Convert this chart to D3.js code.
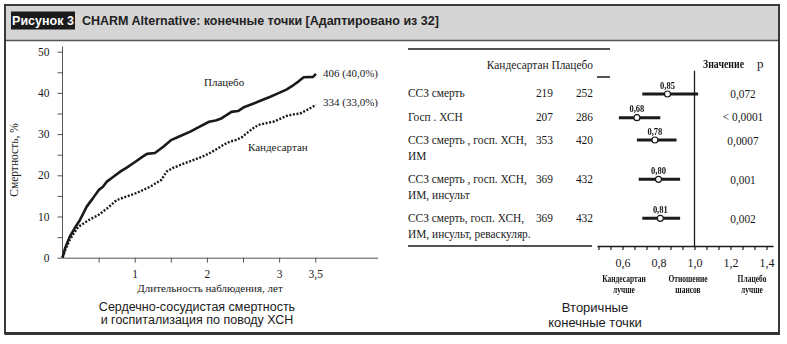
<!DOCTYPE html>
<html><head><meta charset="utf-8">
<script src="https://cdn.jsdelivr.net/npm/d3@7"></script>
<style>
html,body{margin:0;padding:0;background:#fff;}
svg{display:block;}
.serif{font-family:"Liberation Serif","DejaVu Serif",serif;fill:#1a1a1a;}
.sans{font-family:"Liberation Sans",Arial,sans-serif;fill:#1a1a1a;}
.gray{opacity:0.99;}
</style></head>
<body>
<svg id="chart" width="787" height="344"></svg>
<script>
// ---------- DATA ----------
const figureLabel = "Рисунок 3";
const figureTitle = "CHARM Alternative: конечные точки [Адаптировано из 32]";

// Kaplan–Meier style curves: [years, %]
const placeboCurve = [[0,0],[0.04,2.5],[0.10,5.1],[0.17,7.2],[0.24,9.1],[0.29,10.8],[0.335,12.4],[0.42,14.4],[0.50,16.4],[0.56,17.2],[0.61,18.4],[0.70,19.6],[0.80,20.9],[0.90,22.0],[1.01,23.3],[1.10,24.4],[1.17,25.2],[1.28,25.4],[1.40,27.0],[1.51,28.6],[1.64,29.6],[1.77,30.6],[1.90,31.8],[2.03,33.0],[2.12,33.3],[2.20,33.8],[2.34,35.4],[2.43,35.6],[2.52,36.6],[2.63,37.3],[2.74,38.1],[2.87,39.0],[3.00,40.0],[3.10,40.8],[3.20,41.9],[3.27,42.8],[3.34,43.8],[3.47,43.9],[3.51,44.6]];
const candesartanCurve = [[0,0],[0.04,2.0],[0.10,4.3],[0.16,6.0],[0.22,7.5],[0.36,9.1],[0.50,10.4],[0.62,12.0],[0.75,14.0],[0.88,14.8],[1.01,15.6],[1.21,17.2],[1.37,18.9],[1.44,20.9],[1.53,21.8],[1.63,22.5],[1.81,23.7],[1.92,24.4],[2.03,25.3],[2.13,26.3],[2.23,27.4],[2.32,28.2],[2.41,28.6],[2.48,29.2],[2.55,30.2],[2.63,31.3],[2.71,32.2],[2.80,32.6],[2.92,33.0],[3.00,33.6],[3.10,34.4],[3.20,34.8],[3.29,35.0],[3.38,35.8],[3.51,37.1]];
const kmYTicks = [0,5,10,15,20,25,30,35,40,45,50];
const kmXTicks = [0.5,1,1.5,2,2.5,3,3.5];
const kmXLabels = {1:"1",2:"2",3:"3",3.5:"3,5"};
const placeboEndLabel = "406 (40,0%)";
const candesartanEndLabel = "334 (33,0%)";

// Forest plot
const outcomes = [["ССЗ смерть"],["Госп . ХСН"],["ССЗ смерть , госп. ХСН,","ИМ"],["ССЗ смерть , госп. ХСН,","ИМ, инсульт"],["ССЗ смерть, госп. ХСН,","ИМ, инсульт, реваскуляр."]];
const candesartanN = [219,207,353,369,369];
const placeboN = [252,286,420,432,432];
const oddsRatio = [0.85,0.68,0.78,0.80,0.81];
const ciLow = [0.71,0.58,0.68,0.69,0.71];
const ciHigh = [1.02,0.81,0.90,0.92,0.92];
const pValues = ["0,072","< 0,0001","0,0007","0,001","0,002"];

// ---------- DRAW ----------
const svg = d3.select("#chart");
const comma = v => d3.format(".2f")(v).replace(".", ",");
const boldLayer = svg.append("g").attr("class","gray");

// condensed text: horizontal scale only
function condText(x, y, str, size, sx, anchor, bold) {
  const parent = bold ? boldLayer : svg;
  const t = parent.append("text").attr("class","serif")
    .attr("transform",`translate(${x},${y}) scale(${sx},1)`)
    .attr("text-anchor",anchor || "start").style("font-size",size+"px").text(str);
  if (bold) t.style("font-weight","bold").style("fill","#111");
  return t;
}

// Frame & header
svg.append("rect").attr("x",5).attr("y",5).attr("width",774).attr("height",35.5).attr("fill","#d5d5d5");
svg.append("line").attr("x1",5).attr("x2",779).attr("y1",40.5).attr("y2",40.5).attr("stroke","#555").attr("stroke-width",1.5);
svg.append("rect").attr("x",5).attr("y",5).attr("width",774).attr("height",328.5).attr("fill","none").attr("stroke","#3a3a3a").attr("stroke-width",2);
svg.append("line").attr("x1",5).attr("x2",780).attr("y1",333.5).attr("y2",333.5).attr("stroke","#333").attr("stroke-width",3);
svg.append("rect").attr("x",11).attr("y",11.5).attr("width",64).attr("height",18).attr("fill","#1a1a1a");
svg.append("text").attr("class","sans").attr("x",43).attr("y",25).attr("text-anchor","middle")
  .style("fill","#fff").style("font-weight","bold").style("font-size","12.5px").text(figureLabel);
svg.append("text").attr("class","sans").attr("x",82).attr("y",25).style("font-weight","bold").style("font-size","12.5px").style("fill","#222").text(figureTitle);

// ---- KM chart ----
const x = d3.scaleLinear().domain([0,4.365]).range([62.5,377.7]);
const y = d3.scaleLinear().domain([0,50]).range([257.7,51.7]);

const gy = svg.append("g").attr("transform","translate(62.5,0)")
  .call(d3.axisLeft(y).tickValues(kmYTicks).tickFormat(d => d%10===0 ? d : "").tickSize(5).tickPadding(8).tickSizeOuter(0));
gy.select(".domain").remove();
svg.append("line").attr("x1",62.5).attr("x2",62.5).attr("y1",46.5).attr("y2",257.7).attr("stroke","#555").attr("stroke-width",1);
gy.selectAll(".tick line").attr("stroke","#555");
gy.selectAll("text").attr("class","serif").style("font-size","11.5px");

const gx = svg.append("g").attr("transform","translate(0,257.7)")
  .call(d3.axisBottom(x).tickValues(kmXTicks).tickFormat(d => kmXLabels[d] || "").tickSize(5).tickPadding(7).tickSizeOuter(0));
gx.select(".domain").attr("stroke","#555");
gx.selectAll(".tick line").attr("stroke","#555");
gx.selectAll("text").attr("class","serif").style("font-size","11.5px");

const line = d3.line().x(d => x(d[0])).y(d => y(d[1]));
svg.append("path").datum(placeboCurve).attr("d",line).attr("fill","none").attr("stroke","#1a1a1a").attr("stroke-width",2.6).attr("stroke-linejoin","round");
svg.append("path").datum(candesartanCurve).attr("d",line).attr("fill","none").attr("stroke","#1a1a1a").attr("stroke-width",2.4).attr("stroke-dasharray","2,1.6");

svg.append("text").attr("class","serif").attr("x",204).attr("y",86).style("font-size","11px").text("Плацебо");
svg.append("text").attr("class","serif").attr("x",248).attr("y",151).style("font-size","11px").text("Кандесартан");
svg.append("text").attr("class","serif").attr("x",323).attr("y",77).style("font-size","11px").text(placeboEndLabel);
svg.append("text").attr("class","serif").attr("x",323).attr("y",105.5).style("font-size","11px").text(candesartanEndLabel);

svg.append("text").attr("class","serif").attr("x",210).attr("y",292).attr("text-anchor","middle").style("font-size","11px").text("Длительность наблюдения, лет");
svg.append("text").attr("class","serif").attr("transform","translate(18,160) rotate(-90)").attr("text-anchor","middle").style("font-size","11.5px").text("Смертность, %");
svg.append("text").attr("class","sans").attr("x",197).attr("y",310.5).attr("text-anchor","middle").style("font-size","12.5px").text("Сердечно-сосудистая смертность");
svg.append("text").attr("class","sans").attr("x",197).attr("y",324).attr("text-anchor","middle").style("font-size","12.5px").text("и госпитализация по поводу ХСН");

// ---- Table ----
svg.append("line").attr("x1",408).attr("x2",610).attr("y1",49).attr("y2",49).attr("stroke","#1a1a1a").attr("stroke-width",1.5);
svg.append("line").attr("x1",597).attr("x2",610).attr("y1",77).attr("y2",77).attr("stroke","#1a1a1a").attr("stroke-width",1.5);
condText(593, 69, "Кандесартан  Плацебо", 12, 0.95, "end");

// row y positions from the number of text lines per row
const lineH = 15.5, rowGap = 8;
const rowY = [];
outcomes.reduce((acc, o) => { rowY.push(acc); return acc + o.length*lineH + rowGap; }, 93.3);

outcomes.forEach((o, i) => {
  o.forEach((t, j) => condText(408, rowY[i] + j*16 + 4, t, 12, 0.95));
  condText(553, rowY[i]+4, candesartanN[i], 12, 0.95, "end");
  condText(593, rowY[i]+4, placeboN[i], 12, 0.95, "end");
  condText(743, rowY[i]+4.5, pValues[i], 12, 0.95, "middle");
});
svg.append("line").attr("x1",408).attr("x2",592).attr("y1",246).attr("y2",246).attr("stroke","#1a1a1a").attr("stroke-width",1.5);

// ---- Forest ----
const fx = d3.scaleLinear().domain([0.4583,1.4361]).range([597,773]);
const ftv = d3.range(0,15).map(k => 1.4 - k*0.2/3);
const gf = svg.append("g").attr("transform","translate(0,246)")
  .call(d3.axisBottom(fx).tickValues(ftv).tickFormat((d,i) => i%3===0 ? d3.format(".1f")(d).replace(".",",") : "").tickSize(4).tickPadding(8).tickSizeOuter(0));
gf.select(".domain").attr("stroke","#1a1a1a").attr("stroke-width",1.5);
gf.selectAll(".tick line").attr("stroke","#1a1a1a").attr("stroke-width",1.2);
gf.selectAll("text").attr("class","serif").style("font-size","12px");

svg.append("line").attr("x1",fx(1)).attr("x2",fx(1)).attr("y1",70.7).attr("y2",246).attr("stroke","#1a1a1a").attr("stroke-width",1.3);

condText(703, 68, "Значение", 12, 0.82, "start", true);
svg.append("text").attr("class","serif").attr("x",757).attr("y",68).style("font-size","13px").text("p");

const subLabels = [["Кандесартан","лучше",624],["Отношение","шансов",688],["Плацебо","лучше",752]];
subLabels.forEach(s => {
  condText(s[2], 281.5, s[0], 10, 0.75, "middle", true);
  condText(s[2], 293, s[1], 10, 0.75, "middle", true);
});

const fy = [94, 117.7, 140, 179.3, 218.3];
oddsRatio.forEach((v, i) => {
  svg.append("line").attr("x1",fx(ciLow[i])).attr("x2",fx(ciHigh[i])).attr("y1",fy[i]).attr("y2",fy[i]).attr("stroke","#1a1a1a").attr("stroke-width",3);
  svg.append("circle").attr("cx",fx(v)).attr("cy",fy[i]).attr("r",3).attr("fill","#fff").attr("stroke","#1a1a1a").attr("stroke-width",1.2);
  condText(fx(v), fy[i]-5.5, comma(v), 10, 0.85, "middle", true);
});
boldLayer.raise();

svg.append("text").attr("class","sans").attr("x",595).attr("y",312).attr("text-anchor","middle").style("font-size","13px").text("Вторичные");
svg.append("text").attr("class","sans").attr("x",595).attr("y",327).attr("text-anchor","middle").style("font-size","13px").text("конечные точки");
</script>
</body></html>
